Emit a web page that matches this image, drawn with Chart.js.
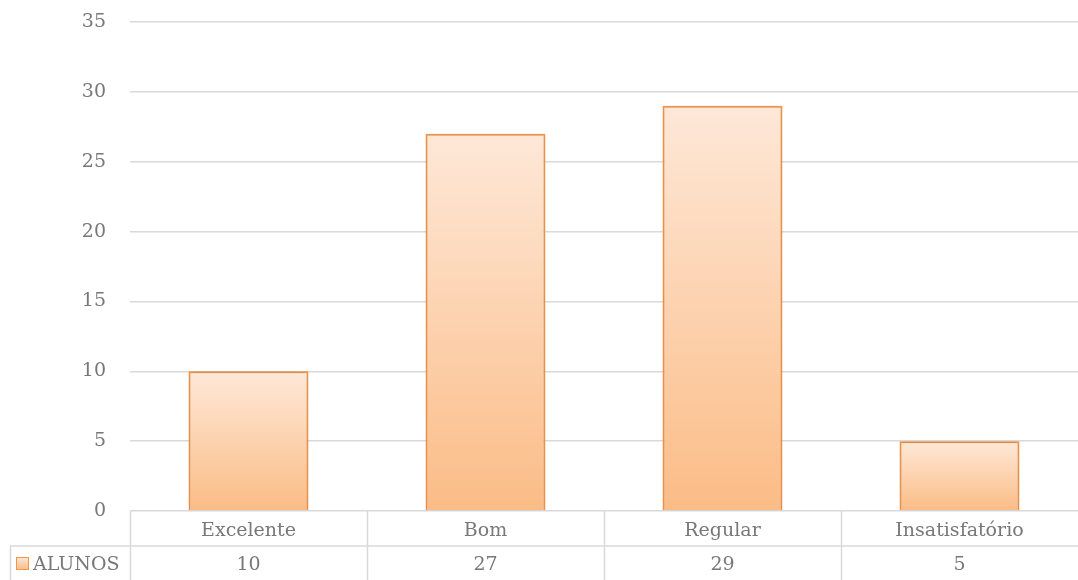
<!DOCTYPE html>
<html>
<head>
<meta charset="utf-8">
<script src="https://cdn.jsdelivr.net/npm/chart.js@4"></script>
<style>
  body { margin: 0; background: #fff; }
  #wrap { width: 1078px; height: 580px; }
</style>
</head>
<body>
<div id="wrap"><canvas id="barChart" width="1078" height="580"></canvas></div>
<script>
const categories = ["Excelente", "Bom", "Regular", "Insatisfatório"];
const seriesName = "ALUNOS";
const alunos = [10, 27, 29, 5];
const yTicks = [0, 5, 10, 15, 20, 25, 30, 35];

const fontFamily = "'DejaVu Serif', 'Liberation Serif', serif";
const textColor = "#787878";
const lineColor = "#d9d9d9";

// each bar gets its own light-to-dark gradient
function barGradient(context) {
    let chart = context.chart;
    if (!chart.chartArea || context.type !== "data") return "#fbc08c";
    let y = chart.scales.y;
    let top = y.getPixelForValue(context.raw);
    let bottom = y.getPixelForValue(0);
    let g = chart.ctx.createLinearGradient(0, top, 0, bottom);
    g.addColorStop(0, "#fee8d8");
    g.addColorStop(1, "#fbbc86");
    return g;
}

const barShadow = {
    id: "barShadow",
    beforeDatasetsDraw(chart) {
        chart.ctx.save();
        chart.ctx.shadowColor = "rgba(0,0,0,0.18)";
        chart.ctx.shadowBlur = 4;
    },
    afterDatasetsDraw(chart) {
        chart.ctx.restore();
    }
};

// draws the data table under the plot
const dataTable = {
    id: "dataTable",
    afterDraw(chart) {
        let ctx = chart.ctx;
        let area = chart.chartArea;
        let x = chart.scales.x;
        let n = categories.length;
        let step = (area.right - area.left) / n;
        let row1 = area.bottom;
        let row2 = row1 + 35;
        let bottom = chart.height;
        let legendLeft = 10;

        ctx.save();
        ctx.strokeStyle = lineColor;
        ctx.lineWidth = 1.5;
        ctx.beginPath();
        ctx.moveTo(legendLeft, row2);
        ctx.lineTo(area.right, row2);
        for (let i = 0; i < n; i++) {
            let lx = Math.round(area.left + i * step) + 0.5;
            ctx.moveTo(lx, row1);
            ctx.lineTo(lx, bottom);
        }
        ctx.moveTo(legendLeft + 0.5, row2);
        ctx.lineTo(legendLeft + 0.5, bottom);
        ctx.stroke();

        ctx.fillStyle = textColor;
        ctx.font = "19px " + fontFamily;
        ctx.textAlign = "center";
        ctx.textBaseline = "middle";
        categories.forEach((c, i) => {
            let cx = x.getPixelForValue(i);
            ctx.fillText(c, cx, row1 + 20);
            ctx.fillText(String(alunos[i]), cx, row2 + 19);
        });

        // legend key
        let g = ctx.createLinearGradient(0, row2 + 11, 0, row2 + 24);
        g.addColorStop(0, "#fee8d8");
        g.addColorStop(1, "#fbbc86");
        ctx.fillStyle = g;
        ctx.fillRect(16, row2 + 11, 13, 13);
        ctx.strokeStyle = "#f79646";
        ctx.lineWidth = 1;
        ctx.strokeRect(16.5, row2 + 11.5, 12, 12);
        ctx.fillStyle = textColor;
        ctx.textAlign = "left";
        ctx.fillText(seriesName, 33, row2 + 19);
        ctx.restore();
    }
};

let ctxB = document.getElementById("barChart").getContext("2d");
let myBarChart = new Chart(ctxB, {
    type: "bar",
    data: {
        labels: categories,
        datasets: [{
            label: seriesName,
            data: alunos,
            backgroundColor: barGradient,
            borderColor: "#f79646",
            borderWidth: 2,
            categoryPercentage: 1,
            barPercentage: 0.506
        }]
    },
    options: {
        responsive: false,
        animation: false,
        layout: {
            padding: { top: 22, bottom: 69, left: 0, right: 0 }
        },
        plugins: {
            legend: { display: false },
            tooltip: { enabled: false }
        },
        scales: {
            x: {
                display: false
            },
            y: {
                min: 0,
                max: 35,
                afterBuildTicks(scale) {
                    scale.ticks = yTicks.map(v => ({ value: v }));
                },
                afterFit(scale) {
                    scale.width = 130;
                    scale.paddingTop = 0;
                    scale.paddingBottom = 0;
                },
                border: { display: false },
                grid: {
                    color: lineColor,
                    lineWidth: 1.5,
                    drawTicks: false
                },
                ticks: {
                    padding: 24,
                    color: textColor,
                    font: { family: fontFamily, size: 19 }
                }
            }
        }
    },
    plugins: [barShadow, dataTable]
});
</script>
</body>
</html>
